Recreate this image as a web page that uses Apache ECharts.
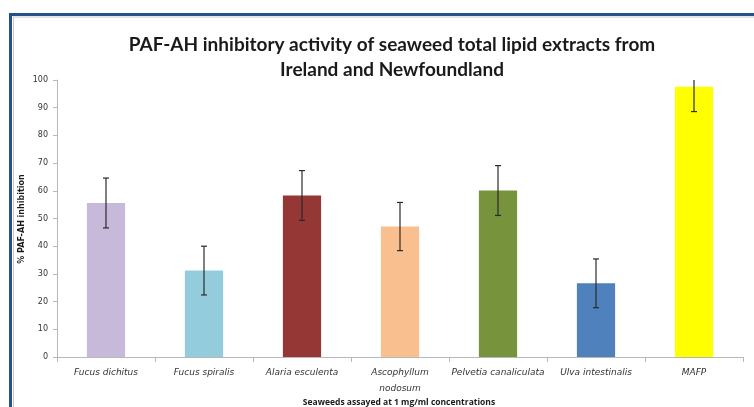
<!DOCTYPE html>
<html>
<head>
<meta charset="utf-8">
<style>
  html, body { margin: 0; padding: 0; background: #ffffff; }
  #chart { width: 754px; height: 407px; }
</style>
<script src="https://cdn.jsdelivr.net/npm/echarts@6/dist/echarts.min.js"></script>
</head>
<body>
<div id="chart"></div>
<script>
// Seaweed extracts tested for PAF-AH inhibition (1 mg/ml)
var categories = [
  'Fucus dichitus', 'Fucus spiralis', 'Alaria esculenta', 'Ascophyllum\nnodosum',
  'Pelvetia canaliculata', 'Ulva intestinalis', 'MAFP'
];
// mean % inhibition
var inhibition = [55.6, 31.2, 58.3, 47.1, 60.1, 26.6, 97.6];
// error bar half-width (± %)
var errorMargin = [9.0, 8.8, 9.0, 8.7, 9.0, 8.8, 9.0];
var barColors = ['#c6b9d9', '#93cddd', '#953735', '#f9bf8f', '#77933c', '#4f81bd', '#ffff00'];
var yTicks = [0, 10, 20, 30, 40, 50, 60, 70, 80, 90, 100];

var chart = echarts.init(document.getElementById('chart'), null, { renderer: 'canvas' });

var errorData = inhibition.map(function (v, i) {
  return [i, v - errorMargin[i], v + errorMargin[i]];
});

var option = {
  backgroundColor: '#ffffff',
  animation: false,
  title: {
    text: 'PAF-AH inhibitory activity of seaweed total lipid extracts from\nIreland and Newfoundland',
    left: 387,
    textAlign: 'center',
    top: 27,
    textStyle: {
      fontFamily: 'Lato',
      fontWeight: 'bold',
      fontSize: 19,
      lineHeight: 25,
      color: '#1a1a1a'
    }
  },
  graphic: [
    { type: 'rect', shape: { x: 9, y: 13, width: 760, height: 3 }, style: { fill: '#24508c' } },
    { type: 'rect', shape: { x: 9, y: 13, width: 3, height: 400 }, style: { fill: '#24508c' } },
    { type: 'line', shape: { x1: 13, y1: 17, x2: 760, y2: 17 }, style: { stroke: '#c8c8c8', lineWidth: 1 } },
    { type: 'line', shape: { x1: 13.5, y1: 17, x2: 13.5, y2: 410 }, style: { stroke: '#c8c8c8', lineWidth: 1 } },
    {
      // y-axis title, rotated
      type: 'text', x: 22, y: 219, rotation: Math.PI / 2,
      style: {
        text: '% PAF-AH inhibition',
        fontFamily: 'DejaVu Sans', fontWeight: 'bold', fontSize: 8, fill: '#1a1a1a',
        textAlign: 'center', textVerticalAlign: 'middle'
      }
    },
    {
      type: 'text', x: 399, y: 403,
      style: {
        text: 'Seaweeds assayed at 1 mg/ml concentrations',
        fontFamily: 'Open Sans', fontWeight: 'bold', fontSize: 8.5, fill: '#1a1a1a',
        textAlign: 'center', textVerticalAlign: 'middle'
      }
    }
  ],
  grid: { left: 57, right: 11, top: 80, bottom: 50, containLabel: false },
  xAxis: {
    type: 'category',
    data: categories,
    axisLine: { show: true, lineStyle: { color: '#b8b8b8', width: 1 } },
    axisTick: { show: true, alignWithLabel: false, length: 5, lineStyle: { color: '#b8b8b8' } },
    axisLabel: {
      interval: 0,
      margin: 8,
      fontFamily: 'DejaVu Sans',
      fontStyle: 'italic',
      fontSize: 9,
      lineHeight: 16,
      color: '#333333'
    }
  },
  yAxis: {
    type: 'value',
    min: 0,
    max: 100,
    interval: 10,
    axisLine: { show: true, lineStyle: { color: '#b8b8b8', width: 1 } },
    axisTick: { show: true, length: 4, lineStyle: { color: '#b8b8b8' } },
    splitLine: { show: false },
    axisLabel: {
      fontFamily: 'DejaVu Sans',
      fontSize: 8,
      margin: 9,
      color: '#333333',
      formatter: function (v) { return yTicks.indexOf(v) >= 0 ? String(v) : ''; }
    }
  },
  series: [
    {
      type: 'bar',
      barWidth: '39%',
      data: inhibition.map(function (v, i) {
        return { value: v, itemStyle: { color: barColors[i] } };
      }),
      z: 2
    },
    {
      type: 'custom',
      z: 5,
      clip: true,
      data: errorData,
      renderItem: function (params, api) {
        var x = api.value(0);
        var lo = api.coord([x, api.value(1)]);
        var hi = api.coord([x, api.value(2)]);
        var cap = 3;
        var style = { stroke: '#2a2a2a', lineWidth: 1.2 };
        return {
          type: 'group',
          children: [
            { type: 'line', shape: { x1: lo[0], y1: lo[1], x2: hi[0], y2: hi[1] }, style: style },
            { type: 'line', shape: { x1: lo[0] - cap, y1: lo[1], x2: lo[0] + cap, y2: lo[1] }, style: style },
            { type: 'line', shape: { x1: hi[0] - cap, y1: hi[1], x2: hi[0] + cap, y2: hi[1] }, style: style }
          ]
        };
      }
    }
  ]
};

chart.setOption(option);
</script>
</body>
</html>
